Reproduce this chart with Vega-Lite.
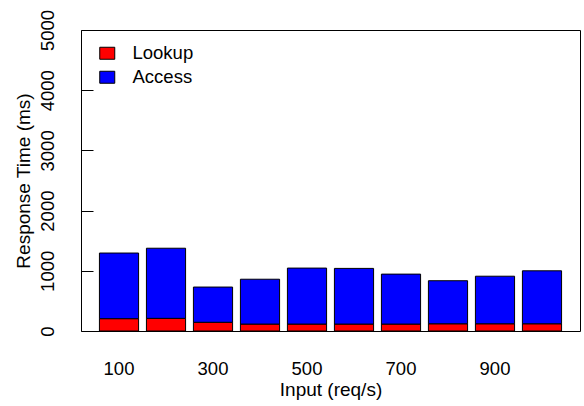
{
  "$schema": "https://vega.github.io/schema/vega-lite/v6.json",
  "width": 499,
  "height": 301,
  "autosize": {"type": "none"},
  "padding": {"left": 81, "top": 30, "right": 4, "bottom": 75},
  "background": "white",
  "data": {
    "values": [
      {"input": 100, "series": "Lookup", "ms": 205},
      {"input": 100, "series": "Access", "ms": 1090},
      {"input": 200, "series": "Lookup", "ms": 210},
      {"input": 200, "series": "Access", "ms": 1165},
      {"input": 300, "series": "Lookup", "ms": 145},
      {"input": 300, "series": "Access", "ms": 585},
      {"input": 400, "series": "Lookup", "ms": 115},
      {"input": 400, "series": "Access", "ms": 745},
      {"input": 500, "series": "Lookup", "ms": 115},
      {"input": 500, "series": "Access", "ms": 930},
      {"input": 600, "series": "Lookup", "ms": 115},
      {"input": 600, "series": "Access", "ms": 925},
      {"input": 700, "series": "Lookup", "ms": 115},
      {"input": 700, "series": "Access", "ms": 830},
      {"input": 800, "series": "Lookup", "ms": 120},
      {"input": 800, "series": "Access", "ms": 715},
      {"input": 900, "series": "Lookup", "ms": 120},
      {"input": 900, "series": "Access", "ms": 790},
      {"input": 1000, "series": "Lookup", "ms": 120},
      {"input": 1000, "series": "Access", "ms": 880}
    ]
  },
  "mark": {"type": "bar", "stroke": "black", "strokeWidth": 1},
  "encoding": {
    "x": {
      "field": "input",
      "type": "ordinal",
      "scale": {"paddingInner": 0.1667, "paddingOuter": 0.392},
      "axis": {
        "title": "Input (req/s)",
        "values": [100, 300, 500, 700, 900],
        "labelAngle": 0,
        "ticks": false,
        "domain": false,
        "labelPadding": 28,
        "labelFontSize": 18.5,
        "labelFont": "Liberation Sans",
        "labelColor": "black",
        "titleFontSize": 19,
        "titleFont": "Liberation Sans",
        "titleFontWeight": "normal",
        "titleColor": "black",
        "titlePadding": 3
      }
    },
    "y": {
      "field": "ms",
      "type": "quantitative",
      "stack": "zero",
      "scale": {"domain": [0, 5000], "nice": false},
      "axis": {
        "title": "Response Time (ms)",
        "values": [0, 1000, 2000, 3000, 4000, 5000],
        "format": "d",
        "grid": false,
        "domain": false,
        "ticks": true,
        "tickSize": -12,
        "tickColor": "black",
        "labelAngle": -90,
        "labelPadding": 36,
        "labelFontSize": 18.5,
        "labelFont": "Liberation Sans",
        "labelColor": "black",
        "labelFlush": false,
        "labelOverlap": false,
        "titleFontSize": 19,
        "titleFont": "Liberation Sans",
        "titleFontWeight": "normal",
        "titleColor": "black",
        "titlePadding": 5
      }
    },
    "color": {
      "field": "series",
      "type": "nominal",
      "scale": {"domain": ["Lookup", "Access"], "range": ["#ff0000", "#0000ff"]},
      "legend": {
        "title": null,
        "orient": "none",
        "legendX": 17,
        "legendY": 14,
        "padding": 0,
        "symbolType": "M-1,-0.8H1V0.8H-1Z",
        "symbolSize": 225,
        "symbolStrokeColor": "black",
        "symbolStrokeWidth": 1,
        "symbolOpacity": 1,
        "labelFontSize": 18.5,
        "labelFont": "Liberation Sans",
        "labelColor": "black",
        "labelOffset": 16,
        "rowPadding": 5
      }
    },
    "order": {"field": "series", "sort": "descending"}
  },
  "config": {
    "view": {"stroke": "black", "strokeWidth": 1}
  }
}
